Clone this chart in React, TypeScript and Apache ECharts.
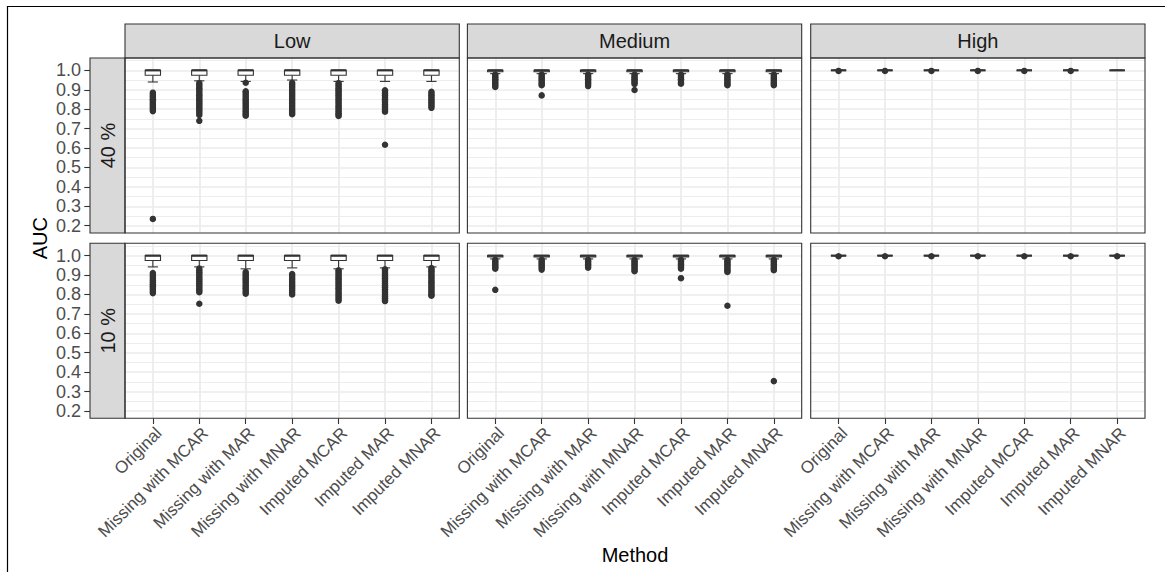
import React, { useEffect, useRef } from "react";
import * as echarts from "echarts";

// Facet levels and x categories
const methods = [
  "Original",
  "Missing with MCAR",
  "Missing with MAR",
  "Missing with MNAR",
  "Imputed MCAR",
  "Imputed MAR",
  "Imputed MNAR",
];
const levels = ["Low", "Medium", "High"];
const rates = ["40 %", "10 %"];

// Y axis breaks
const yBreaks = [0.2, 0.3, 0.4, 0.5, 0.6, 0.7, 0.8, 0.9, 1.0];
const yMinorBreaks = [0.25, 0.35, 0.45, 0.55, 0.65, 0.75, 0.85, 0.95, 1.05];
const yMin = 0.1625;
const yMax = 1.0635;

// Box statistics per method: [lower whisker, Q1, median, Q3, upper whisker]
const low40Stats = [
  [0.94, 0.975, 1.0, 1.0, 1.0],
  [0.946, 0.975, 1.0, 1.0, 1.0],
  [0.943, 0.975, 1.0, 1.0, 1.0],
  [0.95, 0.975, 1.0, 1.0, 1.0],
  [0.943, 0.975, 1.0, 1.0, 1.0],
  [0.943, 0.975, 1.0, 1.0, 1.0],
  [0.943, 0.975, 1.0, 1.0, 1.0],
];
const low40Outliers = [
  [0.885, 0.877, 0.868, 0.86, 0.851, 0.843, 0.834, 0.826, 0.817, 0.808, 0.8, 0.79, 0.235],
  [0.935, 0.926, 0.917, 0.908, 0.899, 0.89, 0.881, 0.872, 0.863, 0.854, 0.845, 0.836, 0.827, 0.818, 0.809, 0.8, 0.791, 0.78, 0.77, 0.74],
  [0.936, 0.892, 0.884, 0.874, 0.865, 0.855, 0.846, 0.836, 0.827, 0.817, 0.808, 0.798, 0.789, 0.78, 0.772, 0.766],
  [0.936, 0.928, 0.919, 0.91, 0.9, 0.891, 0.882, 0.873, 0.864, 0.855, 0.846, 0.837, 0.828, 0.819, 0.81, 0.8, 0.791, 0.782, 0.774],
  [0.935, 0.926, 0.917, 0.908, 0.898, 0.889, 0.88, 0.871, 0.862, 0.852, 0.843, 0.834, 0.825, 0.815, 0.806, 0.797, 0.788, 0.779, 0.771, 0.765],
  [0.897, 0.888, 0.879, 0.87, 0.861, 0.851, 0.842, 0.833, 0.824, 0.814, 0.805, 0.796, 0.787, 0.617],
  [0.89, 0.881, 0.872, 0.863, 0.853, 0.844, 0.835, 0.826, 0.816, 0.807],
];

const medium40Stats = [
  [0.983, 0.993, 1.0, 1.0, 1.0],
  [0.983, 0.993, 1.0, 1.0, 1.0],
  [0.983, 0.993, 1.0, 1.0, 1.0],
  [0.983, 0.993, 1.0, 1.0, 1.0],
  [0.983, 0.993, 1.0, 1.0, 1.0],
  [0.983, 0.993, 1.0, 1.0, 1.0],
  [0.983, 0.993, 1.0, 1.0, 1.0],
];
const medium40Outliers = [
  [0.978, 0.97, 0.962, 0.954, 0.946, 0.938, 0.93, 0.922, 0.914],
  [0.978, 0.97, 0.962, 0.954, 0.946, 0.938, 0.93, 0.923, 0.871],
  [0.978, 0.97, 0.962, 0.954, 0.946, 0.938, 0.93, 0.919],
  [0.978, 0.97, 0.962, 0.954, 0.946, 0.938, 0.93, 0.899],
  [0.978, 0.97, 0.962, 0.954, 0.946, 0.938, 0.931],
  [0.978, 0.97, 0.962, 0.954, 0.946, 0.938, 0.93, 0.923],
  [0.978, 0.97, 0.962, 0.954, 0.946, 0.938, 0.93, 0.923],
];

const high40Stats = [
  [1.0, 1.0, 1.0, 1.0, 1.0],
  [1.0, 1.0, 1.0, 1.0, 1.0],
  [1.0, 1.0, 1.0, 1.0, 1.0],
  [1.0, 1.0, 1.0, 1.0, 1.0],
  [1.0, 1.0, 1.0, 1.0, 1.0],
  [1.0, 1.0, 1.0, 1.0, 1.0],
  [1.0, 1.0, 1.0, 1.0, 1.0],
];
const high40Outliers = [[0.997], [0.997], [0.997], [0.997], [0.997], [0.997], []];

const low10Stats = [
  [0.942, 0.975, 1.0, 1.0, 1.0],
  [0.942, 0.975, 1.0, 1.0, 1.0],
  [0.932, 0.975, 1.0, 1.0, 1.0],
  [0.937, 0.975, 1.0, 1.0, 1.0],
  [0.932, 0.975, 1.0, 1.0, 1.0],
  [0.937, 0.975, 1.0, 1.0, 1.0],
  [0.942, 0.975, 1.0, 1.0, 1.0],
];
const low10Outliers = [
  [0.91, 0.9, 0.891, 0.881, 0.872, 0.862, 0.853, 0.843, 0.834, 0.825, 0.816, 0.807],
  [0.933, 0.923, 0.914, 0.905, 0.895, 0.886, 0.877, 0.868, 0.858, 0.849, 0.84, 0.83, 0.821, 0.812, 0.752],
  [0.916, 0.907, 0.898, 0.888, 0.879, 0.869, 0.86, 0.85, 0.841, 0.832, 0.822, 0.813, 0.804],
  [0.905, 0.896, 0.886, 0.877, 0.867, 0.858, 0.848, 0.839, 0.829, 0.82, 0.81, 0.8],
  [0.925, 0.916, 0.907, 0.897, 0.888, 0.879, 0.869, 0.86, 0.851, 0.841, 0.832, 0.823, 0.813, 0.804, 0.795, 0.786, 0.777, 0.768],
  [0.93, 0.921, 0.911, 0.902, 0.893, 0.883, 0.874, 0.865, 0.855, 0.846, 0.837, 0.827, 0.818, 0.809, 0.799, 0.79, 0.781, 0.772, 0.766],
  [0.936, 0.928, 0.919, 0.91, 0.9, 0.891, 0.882, 0.872, 0.863, 0.854, 0.844, 0.835, 0.826, 0.816, 0.807, 0.798, 0.794],
];

const medium10Stats = [
  [0.983, 0.993, 1.0, 1.0, 1.0],
  [0.983, 0.993, 1.0, 1.0, 1.0],
  [0.983, 0.993, 1.0, 1.0, 1.0],
  [0.983, 0.993, 1.0, 1.0, 1.0],
  [0.983, 0.993, 1.0, 1.0, 1.0],
  [0.983, 0.993, 1.0, 1.0, 1.0],
  [0.983, 0.993, 1.0, 1.0, 1.0],
];
const medium10Outliers = [
  [0.978, 0.97, 0.962, 0.954, 0.946, 0.94, 0.933, 0.824],
  [0.978, 0.97, 0.962, 0.954, 0.946, 0.938, 0.928],
  [0.978, 0.97, 0.962, 0.954, 0.946, 0.938],
  [0.978, 0.97, 0.962, 0.954, 0.946, 0.938, 0.929, 0.92],
  [0.978, 0.97, 0.962, 0.954, 0.946, 0.94, 0.933, 0.884],
  [0.978, 0.97, 0.962, 0.954, 0.946, 0.938, 0.93, 0.922, 0.916, 0.742],
  [0.978, 0.97, 0.962, 0.954, 0.946, 0.938, 0.931, 0.925, 0.354],
];

const high10Stats = [
  [1.0, 1.0, 1.0, 1.0, 1.0],
  [1.0, 1.0, 1.0, 1.0, 1.0],
  [1.0, 1.0, 1.0, 1.0, 1.0],
  [1.0, 1.0, 1.0, 1.0, 1.0],
  [1.0, 1.0, 1.0, 1.0, 1.0],
  [1.0, 1.0, 1.0, 1.0, 1.0],
  [1.0, 1.0, 1.0, 1.0, 1.0],
];
const high10Outliers = [[0.997], [0.997], [0.997], [0.997], [0.997], [0.997], [0.997]];

// Facets in row-major order: rows are rates, columns are levels
const facetStats = [
  [low40Stats, medium40Stats, high40Stats],
  [low10Stats, medium10Stats, high10Stats],
];
const facetOutliers = [
  [low40Outliers, medium40Outliers, high40Outliers],
  [low10Outliers, medium10Outliers, high10Outliers],
];

// Layout
const FONT = "'Liberation Sans', Arial, Helvetica, sans-serif";
const panelLeft = [125, 467.4, 810.7];
const panelTop = [58, 243.3];
const panelW = 334.3;
const panelH = 175;
const stripH = 34;
const stripW = 35;
const INK = "#333333";
const GRID_COLOR = "#EBEBEB";
const STRIP_FILL = "#D9D9D9";
const BOX_WIDTH = 0.33;
const CAP_WIDTH = 0.22;

function buildOption() {
  const grids: any[] = [];
  const xAxes: any[] = [];
  const yAxes: any[] = [];
  const series: any[] = [];
  const graphics: any[] = [];
  const xIdx = methods.map((_, i) => i);

  rates.forEach((rate, r) => {
    levels.forEach((level, c) => {
      const g = r * levels.length + c;
      grids.push({
        show: true,
        left: panelLeft[c],
        top: panelTop[r],
        width: panelW,
        height: panelH,
        backgroundColor: "#ffffff",
        borderWidth: 0,
        containLabel: false,
      });
      const bottomRow = r === rates.length - 1;
      xAxes.push({
        type: "value",
        gridIndex: g,
        min: -0.6,
        max: methods.length - 0.4,
        axisLine: { show: false, onZero: false },
        splitLine: { show: false },
        axisTick: {
          show: bottomRow,
          customValues: xIdx,
          length: 5.7,
          lineStyle: { color: INK, width: 1.1 },
        },
        axisLabel: {
          show: bottomRow,
          customValues: xIdx,
          showMinLabel: true,
          showMaxLabel: true,
          rotate: 45,
          margin: 6,
          verticalAlign: "top",
          fontSize: 17,
          color: "#4D4D4D",
          fontFamily: FONT,
          formatter: (v: number) => methods[Math.round(v)] ?? "",
        },
      });
      const firstCol = c === 0;
      yAxes.push({
        type: "value",
        gridIndex: g,
        min: yMin,
        max: yMax,
        offset: firstCol ? stripW : 0,
        axisLine: { show: false, onZero: false },
        splitLine: { show: false },
        axisTick: {
          show: firstCol,
          customValues: yBreaks,
          length: 5.7,
          lineStyle: { color: INK, width: 1.1 },
        },
        axisLabel: {
          show: firstCol,
          customValues: yBreaks,
          showMinLabel: true,
          showMaxLabel: true,
          hideOverlap: false,
          margin: 9,
          fontSize: 18,
          color: "#4D4D4D",
          fontFamily: FONT,
          formatter: (v: number) => v.toFixed(1),
        },
      });

      // Panel grid: minor and major horizontal lines, one vertical line per category
      const gridLines = [
        ...yMinorBreaks.map((v) => ({ yAxis: v, lineStyle: { width: 0.9 } })),
        ...yBreaks.map((v) => ({ yAxis: v, lineStyle: { width: 1.7 } })),
        ...xIdx.map((i) => ({ xAxis: i, lineStyle: { width: 1.7 } })),
      ];
      series.push({
        type: "line",
        xAxisIndex: g,
        yAxisIndex: g,
        data: [],
        silent: true,
        markLine: {
          silent: true,
          z: 1,
          symbol: ["none", "none"],
          label: { show: false },
          emphasis: { disabled: true },
          lineStyle: { color: GRID_COLOR, type: "solid", width: 1.7 },
          data: gridLines,
        },
      });

      // Boxes with whiskers
      const stats = facetStats[r][c];
      series.push({
        type: "custom",
        name: `${level} ${rate}`,
        xAxisIndex: g,
        yAxisIndex: g,
        z: 3,
        encode: { x: 0, y: [1, 2, 3, 4, 5] },
        data: stats.map((s, i) => [i, ...s]),
        renderItem: (params: any, api: any) => {
          const xi = api.value(0);
          const unit = api.size([1, 0])[0];
          const bw = unit * BOX_WIDTH;
          const cw = unit * CAP_WIDTH;
          const cx = api.coord([xi, 1])[0];
          const yLo = api.coord([xi, api.value(1)])[1];
          const yQ1 = api.coord([xi, api.value(2)])[1];
          const yMed = api.coord([xi, api.value(3)])[1];
          const yQ3 = api.coord([xi, api.value(4)])[1];
          const yHi = api.coord([xi, api.value(5)])[1];
          const stroke = { stroke: INK, lineWidth: 1.1 };
          return {
            type: "group",
            children: [
              { type: "line", shape: { x1: cx, y1: yQ1, x2: cx, y2: yLo }, style: stroke },
              { type: "line", shape: { x1: cx - cw / 2, y1: yLo, x2: cx + cw / 2, y2: yLo }, style: stroke },
              { type: "line", shape: { x1: cx, y1: yQ3, x2: cx, y2: yHi }, style: stroke },
              { type: "line", shape: { x1: cx - cw / 2, y1: yHi, x2: cx + cw / 2, y2: yHi }, style: stroke },
              {
                type: "rect",
                shape: { x: cx - bw / 2, y: yQ3, width: bw, height: yQ1 - yQ3 },
                style: { fill: "#ffffff", stroke: INK, lineWidth: 1.1 },
              },
              { type: "line", shape: { x1: cx - bw / 2, y1: yMed, x2: cx + bw / 2, y2: yMed }, style: { stroke: INK, lineWidth: 2.2 } },
            ],
          };
        },
      });

      // Outlying points
      const outs = facetOutliers[r][c];
      const pts: number[][] = [];
      outs.forEach((list, i) => list.forEach((v) => pts.push([i, v])));
      series.push({
        type: "scatter",
        xAxisIndex: g,
        yAxisIndex: g,
        z: 4,
        symbol: "circle",
        symbolSize: 6.5,
        itemStyle: { color: INK, opacity: 1 },
        data: pts,
      });

      // Panel border above the grid lines
      graphics.push({
        type: "rect",
        z: 20,
        shape: { x: panelLeft[c], y: panelTop[r], width: panelW, height: panelH },
        style: { fill: "none", stroke: INK, lineWidth: 1.1 },
      });
    });
  });

  // Column strips
  levels.forEach((level, c) => {
    graphics.push({
      type: "rect",
      z: 10,
      shape: { x: panelLeft[c], y: panelTop[0] - stripH, width: panelW, height: stripH },
      style: { fill: STRIP_FILL, stroke: INK, lineWidth: 1.1 },
    });
    graphics.push({
      type: "text",
      z: 11,
      x: panelLeft[c] + panelW / 2,
      y: panelTop[0] - stripH / 2,
      style: {
        text: level,
        fill: "#1A1A1A",
        font: `20px ${FONT}`,
        align: "center",
        verticalAlign: "middle",
      },
    });
  });
  // Row strips on the left
  rates.forEach((rate, r) => {
    graphics.push({
      type: "rect",
      z: 10,
      shape: { x: panelLeft[0] - stripW, y: panelTop[r], width: stripW, height: panelH },
      style: { fill: STRIP_FILL, stroke: INK, lineWidth: 1.1 },
    });
    graphics.push({
      type: "text",
      z: 11,
      x: panelLeft[0] - stripW / 2,
      y: panelTop[r] + panelH / 2,
      rotation: Math.PI / 2,
      style: {
        text: rate,
        fill: "#1A1A1A",
        font: `20px ${FONT}`,
        align: "center",
        verticalAlign: "middle",
      },
    });
  });
  // Axis titles
  graphics.push({
    type: "text",
    z: 11,
    x: 40,
    y: (panelTop[0] + panelTop[1] + panelH) / 2,
    rotation: Math.PI / 2,
    style: { text: "AUC", fill: "#000000", font: `20px ${FONT}`, align: "center", verticalAlign: "middle" },
  });
  graphics.push({
    type: "text",
    z: 11,
    x: (panelLeft[0] + panelLeft[2] + panelW) / 2,
    y: 555,
    style: { text: "Method", fill: "#000000", font: `20px ${FONT}`, align: "center", verticalAlign: "middle" },
  });
  // Outer frame (top and left edges)
  graphics.push({
    type: "polyline",
    z: 12,
    shape: { points: [[7.5, 572], [7.5, 6.5], [1165, 6.5]] },
    style: { stroke: "#000000", lineWidth: 1.2, fill: "none" },
  });

  return {
    animation: false,
    backgroundColor: "#ffffff",
    textStyle: { fontFamily: FONT },
    grid: grids,
    xAxis: xAxes,
    yAxis: yAxes,
    series,
    graphic: graphics,
  };
}

export default function App() {
  const ref = useRef<HTMLDivElement>(null);
  useEffect(() => {
    if (!ref.current) return;
    const chart = echarts.init(ref.current, undefined, { renderer: "svg" });
    chart.setOption(buildOption() as any);
    return () => chart.dispose();
  }, []);
  return (
    <div
      ref={ref}
      style={{ position: "fixed", left: 0, top: 0, width: 1165, height: 572, background: "#fff" }}
    />
  );
}
